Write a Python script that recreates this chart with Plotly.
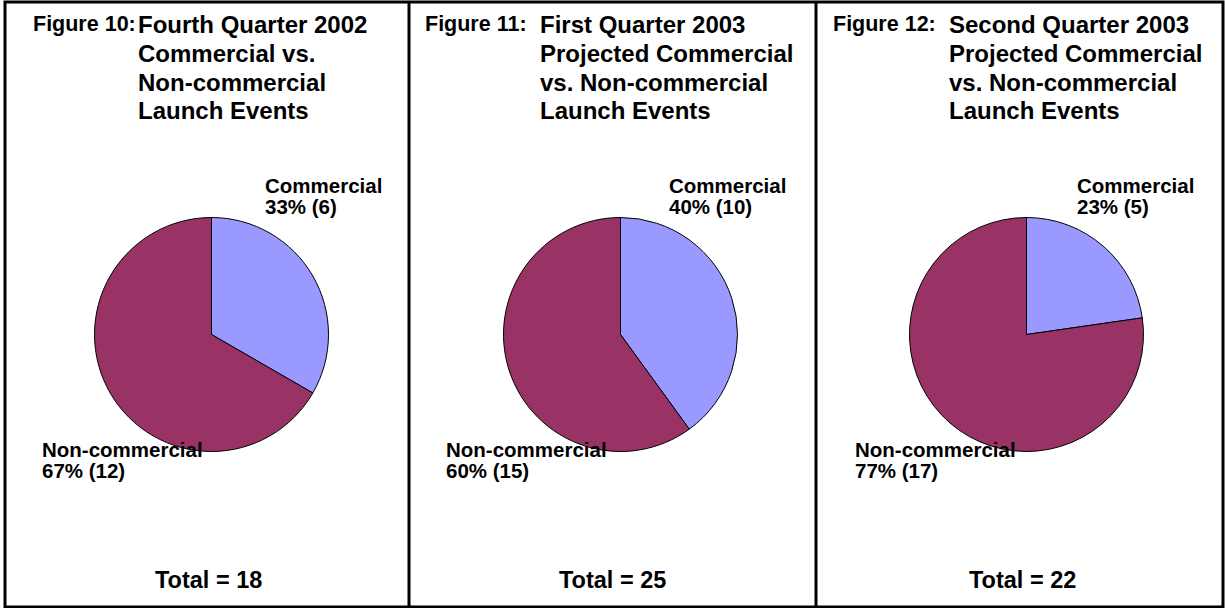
import plotly.graph_objects as go

W, H = 1225, 608

# ---- data ----
figure_numbers = ["Figure 10:", "Figure 11:", "Figure 12:"]
title_lines = [
    ["Fourth Quarter 2002", "Commercial vs.", "Non-commercial", "Launch Events"],
    ["First Quarter 2003", "Projected Commercial", "vs. Non-commercial", "Launch Events"],
    ["Second Quarter 2003", "Projected Commercial", "vs. Non-commercial", "Launch Events"],
]
categories = ["Commercial", "Non-commercial"]
commercial = [6, 10, 5]
non_commercial = [12, 15, 17]
totals = [18, 25, 22]
colors = ["#9999FF", "#993366"]

# ---- layout positions (pixels) ----
pie_cx = [211.5, 620.5, 1026.5]
pie_cy = 334.5
pie_r = 117
title_x0 = [32, 424, 832]
title_x1 = [137, 539, 948]
title_y = [24, 53, 82, 111]
comm_x = [264, 668, 1076]
comm_y = [185.5, 206.5]
non_x = [41, 445, 854]
non_y = [449.5, 470.5]
total_x = [208, 612, 1022]
total_y = 580
dividers = [409, 816]

FONT = "Liberation Sans, Arial, sans-serif"


def px(x):
    return x / W


def py(y):
    return 1 - y / H


fig = go.Figure()
annotations = []


def ann(text, x, y, xanchor="left", size=21):
    annotations.append(dict(
        text=text, x=px(x), y=py(y), xref="paper", yref="paper",
        xanchor=xanchor, yanchor="middle", showarrow=False, borderpad=0,
        font=dict(family=FONT, size=size, color="black"),
    ))


for i in range(3):
    vals = [commercial[i], non_commercial[i]]
    fig.add_trace(go.Pie(
        labels=categories,
        values=vals,
        sort=False,
        direction="clockwise",
        rotation=0,
        marker=dict(colors=colors, line=dict(color="black", width=1)),
        textinfo="none",
        hoverinfo="label+value+percent",
        showlegend=False,
        domain=dict(x=[px(pie_cx[i] - pie_r), px(pie_cx[i] + pie_r)],
                    y=[py(pie_cy + pie_r), py(pie_cy - pie_r)]),
    ))
    tot = sum(vals)
    pc = round(100 * commercial[i] / tot)
    pn = round(100 * non_commercial[i] / tot)

    ann("<b>%s</b>" % figure_numbers[i], title_x0[i], title_y[0], size=21.5)
    for j, line in enumerate(title_lines[i]):
        ann("<b>%s</b>" % line, title_x1[i], title_y[j], size=24)
    ann("<b>%s</b>" % categories[0], comm_x[i], comm_y[0], size=20.5)
    ann("<b>%d%% (%d)</b>" % (pc, commercial[i]), comm_x[i], comm_y[1], size=20.5)
    ann("<b>%s</b>" % categories[1], non_x[i], non_y[0], size=20.5)
    ann("<b>%d%% (%d)</b>" % (pn, non_commercial[i]), non_x[i], non_y[1], size=20.5)
    ann("<b>Total = %d</b>" % totals[i], total_x[i], total_y, xanchor="center", size=23.5)

shapes = [
    dict(type="rect", xref="paper", yref="paper",
         x0=px(5), x1=px(1223), y0=py(607), y1=py(2),
         line=dict(color="black", width=3)),
]
for d in dividers:
    shapes.append(dict(type="line", xref="paper", yref="paper",
                       x0=px(d), x1=px(d), y0=py(607), y1=py(2),
                       line=dict(color="black", width=3)))

fig.update_layout(
    width=W, height=H,
    margin=dict(l=0, r=0, t=0, b=0),
    paper_bgcolor="white", plot_bgcolor="white",
    annotations=annotations,
    shapes=shapes,
)

fig.write_html(
    "out.html",
    config={"displayModeBar": False},
    post_script="document.body.style.margin='0';document.body.style.overflow='hidden';",
)
